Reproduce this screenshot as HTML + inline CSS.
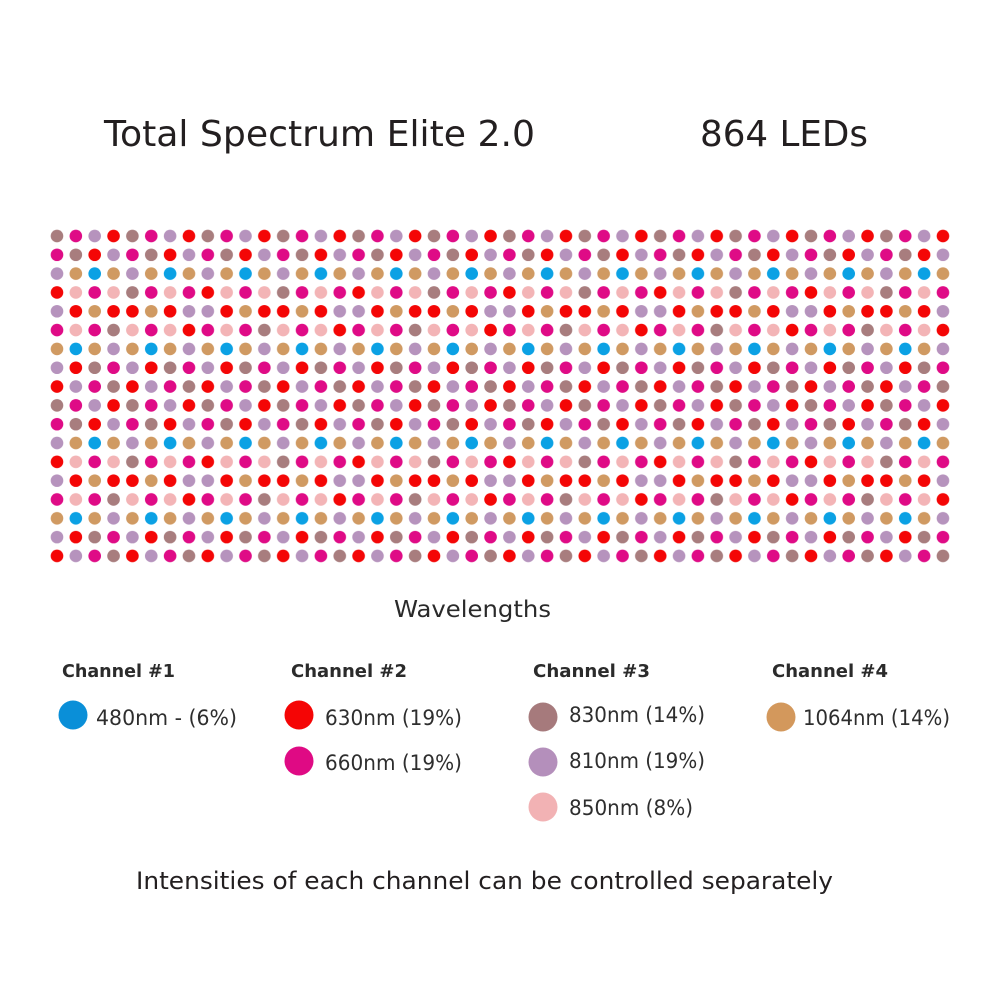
<!DOCTYPE html>
<html>
<head>
<meta charset="utf-8">
<style>
html,body{margin:0;padding:0;background:#fff;}
svg{display:block;}
text{font-family:"DejaVu Sans","Liberation Sans",sans-serif;}
</style>
</head>
<body>
<svg width="1000" height="1000" viewBox="0 0 1000 1000" xmlns="http://www.w3.org/2000/svg">
<defs>
<pattern id="leds" patternUnits="userSpaceOnUse" x="47.575" y="226.59" width="150.8" height="169.38">
<!-- row 1: Br M L R Br M L R -->
<g transform="translate(9.425,9.41)">
<g>
<circle cx="0" cy="0" r="6.3" fill="#a87d7e"/>
<circle cx="18.85" cy="0" r="6.3" fill="#df0b86"/>
<circle cx="37.7" cy="0" r="6.3" fill="#b693bd"/>
<circle cx="56.55" cy="0" r="6.3" fill="#f40606"/>
<circle cx="75.4" cy="0" r="6.3" fill="#a87d7e"/>
<circle cx="94.25" cy="0" r="6.3" fill="#df0b86"/>
<circle cx="113.1" cy="0" r="6.3" fill="#b693bd"/>
<circle cx="131.95" cy="0" r="6.3" fill="#f40606"/>
</g>
<!-- row 2: M Br R L M Br R L -->
<g transform="translate(0,18.82)">
<circle cx="0" cy="0" r="6.3" fill="#df0b86"/>
<circle cx="18.85" cy="0" r="6.3" fill="#a87d7e"/>
<circle cx="37.7" cy="0" r="6.3" fill="#f40606"/>
<circle cx="56.55" cy="0" r="6.3" fill="#b693bd"/>
<circle cx="75.4" cy="0" r="6.3" fill="#df0b86"/>
<circle cx="94.25" cy="0" r="6.3" fill="#a87d7e"/>
<circle cx="113.1" cy="0" r="6.3" fill="#f40606"/>
<circle cx="131.95" cy="0" r="6.3" fill="#b693bd"/>
</g>
<!-- row 3: L O B O L O B O -->
<g transform="translate(0,37.64)">
<circle cx="0" cy="0" r="6.3" fill="#b693bd"/>
<circle cx="18.85" cy="0" r="6.3" fill="#d09a62"/>
<circle cx="37.7" cy="0" r="6.3" fill="#0ba1e4"/>
<circle cx="56.55" cy="0" r="6.3" fill="#d09a62"/>
<circle cx="75.4" cy="0" r="6.3" fill="#b693bd"/>
<circle cx="94.25" cy="0" r="6.3" fill="#d09a62"/>
<circle cx="113.1" cy="0" r="6.3" fill="#0ba1e4"/>
<circle cx="131.95" cy="0" r="6.3" fill="#d09a62"/>
</g>
<!-- row 4: R P M P Br M P M -->
<g transform="translate(0,56.46)">
<circle cx="0" cy="0" r="6.3" fill="#f40606"/>
<circle cx="18.85" cy="0" r="6.3" fill="#f3b4b6"/>
<circle cx="37.7" cy="0" r="6.3" fill="#df0b86"/>
<circle cx="56.55" cy="0" r="6.3" fill="#f3b4b6"/>
<circle cx="75.4" cy="0" r="6.3" fill="#a87d7e"/>
<circle cx="94.25" cy="0" r="6.3" fill="#df0b86"/>
<circle cx="113.1" cy="0" r="6.3" fill="#f3b4b6"/>
<circle cx="131.95" cy="0" r="6.3" fill="#df0b86"/>
</g>
<!-- row 5: L R O R R O R L -->
<g transform="translate(0,75.28)">
<circle cx="0" cy="0" r="6.3" fill="#b693bd"/>
<circle cx="18.85" cy="0" r="6.3" fill="#f40606"/>
<circle cx="37.7" cy="0" r="6.3" fill="#d09a62"/>
<circle cx="56.55" cy="0" r="6.3" fill="#f40606"/>
<circle cx="75.4" cy="0" r="6.3" fill="#f40606"/>
<circle cx="94.25" cy="0" r="6.3" fill="#d09a62"/>
<circle cx="113.1" cy="0" r="6.3" fill="#f40606"/>
<circle cx="131.95" cy="0" r="6.3" fill="#b693bd"/>
</g>
<!-- row 6: M P M Br P M P R -->
<g transform="translate(0,94.1)">
<circle cx="0" cy="0" r="6.3" fill="#df0b86"/>
<circle cx="18.85" cy="0" r="6.3" fill="#f3b4b6"/>
<circle cx="37.7" cy="0" r="6.3" fill="#df0b86"/>
<circle cx="56.55" cy="0" r="6.3" fill="#a87d7e"/>
<circle cx="75.4" cy="0" r="6.3" fill="#f3b4b6"/>
<circle cx="94.25" cy="0" r="6.3" fill="#df0b86"/>
<circle cx="113.1" cy="0" r="6.3" fill="#f3b4b6"/>
<circle cx="131.95" cy="0" r="6.3" fill="#f40606"/>
</g>
<!-- row 7: O B O L O B O L -->
<g transform="translate(0,112.92)">
<circle cx="0" cy="0" r="6.3" fill="#d09a62"/>
<circle cx="18.85" cy="0" r="6.3" fill="#0ba1e4"/>
<circle cx="37.7" cy="0" r="6.3" fill="#d09a62"/>
<circle cx="56.55" cy="0" r="6.3" fill="#b693bd"/>
<circle cx="75.4" cy="0" r="6.3" fill="#d09a62"/>
<circle cx="94.25" cy="0" r="6.3" fill="#0ba1e4"/>
<circle cx="113.1" cy="0" r="6.3" fill="#d09a62"/>
<circle cx="131.95" cy="0" r="6.3" fill="#b693bd"/>
</g>
<!-- row 8: L R Br M L R Br M -->
<g transform="translate(0,131.74)">
<circle cx="0" cy="0" r="6.3" fill="#b693bd"/>
<circle cx="18.85" cy="0" r="6.3" fill="#f40606"/>
<circle cx="37.7" cy="0" r="6.3" fill="#a87d7e"/>
<circle cx="56.55" cy="0" r="6.3" fill="#df0b86"/>
<circle cx="75.4" cy="0" r="6.3" fill="#b693bd"/>
<circle cx="94.25" cy="0" r="6.3" fill="#f40606"/>
<circle cx="113.1" cy="0" r="6.3" fill="#a87d7e"/>
<circle cx="131.95" cy="0" r="6.3" fill="#df0b86"/>
</g>
<!-- row 9: R L M Br R L M Br -->
<g transform="translate(0,150.56)">
<circle cx="0" cy="0" r="6.3" fill="#f40606"/>
<circle cx="18.85" cy="0" r="6.3" fill="#b693bd"/>
<circle cx="37.7" cy="0" r="6.3" fill="#df0b86"/>
<circle cx="56.55" cy="0" r="6.3" fill="#a87d7e"/>
<circle cx="75.4" cy="0" r="6.3" fill="#f40606"/>
<circle cx="94.25" cy="0" r="6.3" fill="#b693bd"/>
<circle cx="113.1" cy="0" r="6.3" fill="#df0b86"/>
<circle cx="131.95" cy="0" r="6.3" fill="#a87d7e"/>
</g>
</g>
</pattern>
</defs>

<rect x="0" y="0" width="1000" height="1000" fill="#ffffff"/>

<!-- Title -->
<text x="104" y="146" font-size="36" fill="#231f20" textLength="431" lengthAdjust="spacingAndGlyphs">Total Spectrum Elite 2.0</text>
<text x="700" y="146" font-size="36" fill="#231f20" textLength="168" lengthAdjust="spacingAndGlyphs">864 LEDs</text>

<!-- LED grid -->
<rect x="47.575" y="226.59" width="904.8" height="338.76" fill="url(#leds)"/>

<!-- Wavelengths -->
<text x="394" y="617" font-size="23" fill="#2a2a2a" textLength="157" lengthAdjust="spacingAndGlyphs">Wavelengths</text>

<!-- Channel headers -->
<g font-weight="bold" font-size="18" fill="#2b2b2b">
<text x="62" y="677" textLength="113" lengthAdjust="spacingAndGlyphs">Channel #1</text>
<text x="291" y="677" textLength="116" lengthAdjust="spacingAndGlyphs">Channel #2</text>
<text x="533" y="677" textLength="117" lengthAdjust="spacingAndGlyphs">Channel #3</text>
<text x="772" y="677" textLength="116" lengthAdjust="spacingAndGlyphs">Channel #4</text>
</g>

<!-- Legend dots -->
<circle cx="73" cy="715" r="14.5" fill="#0a8fd8"/>
<circle cx="299" cy="715" r="14.5" fill="#f50505"/>
<circle cx="299" cy="761" r="14.5" fill="#df0a84"/>
<circle cx="543" cy="717" r="14.5" fill="#a67a7c"/>
<circle cx="543" cy="762" r="14.5" fill="#b48fbb"/>
<circle cx="543" cy="807" r="14.5" fill="#f2b2b4"/>
<circle cx="781" cy="717" r="14.5" fill="#d3985c"/>

<!-- Legend text -->
<g font-size="21" fill="#2e2e2e">
<text x="96" y="725" textLength="141" lengthAdjust="spacingAndGlyphs">480nm - (6%)</text>
<text x="325" y="725" textLength="137" lengthAdjust="spacingAndGlyphs">630nm (19%)</text>
<text x="325" y="770" textLength="137" lengthAdjust="spacingAndGlyphs">660nm (19%)</text>
<text x="569" y="722" textLength="136" lengthAdjust="spacingAndGlyphs">830nm (14%)</text>
<text x="569" y="768" textLength="136" lengthAdjust="spacingAndGlyphs">810nm (19%)</text>
<text x="569" y="815" textLength="124" lengthAdjust="spacingAndGlyphs">850nm (8%)</text>
<text x="803" y="725" textLength="147" lengthAdjust="spacingAndGlyphs">1064nm (14%)</text>
</g>

<!-- Footer -->
<text x="136" y="889" font-size="24" fill="#231f20" textLength="697" lengthAdjust="spacingAndGlyphs">Intensities of each channel can be controlled separately</text>
</svg>
</body>
</html>
